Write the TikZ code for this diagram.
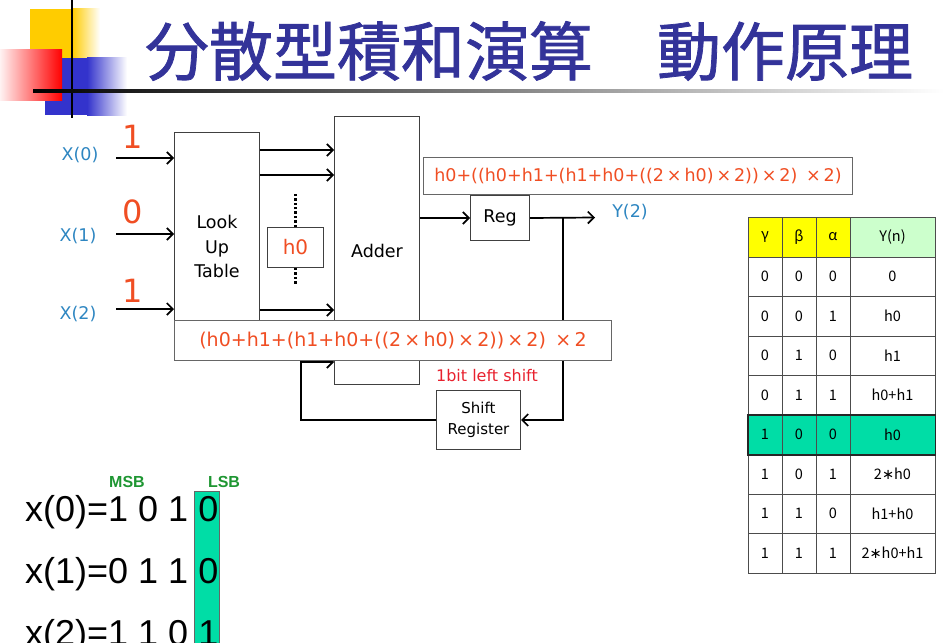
\documentclass[tikz,border=0pt]{standalone}
\usepackage{fontspec}
\setmainfont{DejaVu Sans}
\newfontfamily\jpfont{Noto Sans CJK JP}
\newfontfamily\jptitle[FakeBold=1.2]{Noto Sans CJK JP}
\newfontfamily\arialfont{Liberation Sans}
\newcommand\starop{{\normalfont ∗}}
\usepackage{xcolor}
\usepackage{tikz}
\usetikzlibrary{arrows.meta, positioning}

\definecolor{titleblue}{HTML}{333399}
\definecolor{decoyellow}{HTML}{FFCC00}
\definecolor{decoblue}{HTML}{3333CC}
\definecolor{labelblue}{HTML}{2E86C1}
\definecolor{exprred}{HTML}{F04E23}
\definecolor{shiftred}{HTML}{E8212E}
\definecolor{msbgreen}{HTML}{1E9632}
\definecolor{hlteal}{HTML}{00DDA6}
\definecolor{hdyellow}{HTML}{FFFF00}
\definecolor{hdgreen}{HTML}{CCFFCC}

\begin{document}
\begin{tikzpicture}[x=1pt, y=-1pt,
  box/.style={rectangle, draw=black!75, line width=1pt, fill=white, inner sep=0pt, anchor=north west, align=center, font=\fontsize{17.5}{24.5}\selectfont},
  expr/.style={rectangle, draw=black!60, line width=1pt, fill=white, inner sep=0pt, anchor=north west, text=exprred},
  arrow/.style={-{Straight Barb[length=6pt, width=12pt]}, line width=1.7pt},
  lbl/.style={text=labelblue, font=\fontsize{17.5}{20}\selectfont},
  bit/.style={text=exprred, font=\fontsize{32}{34}\selectfont},
  cell/.style={rectangle, draw=black!70, line width=0.8pt, inner sep=0pt, minimum width=34pt, minimum height=39.5pt, font=\jpfont\fontsize{14.5}{16}\selectfont}]
  \useasboundingbox (0,0) rectangle (944,642);
  % Title
  \fill[decoyellow] (30,9) rectangle (72,58);
  \shade[left color=decoyellow, right color=white] (72,9) rectangle (100,58);
  \fill[decoblue] (45,58) rectangle (87,115);
  \shade[left color=decoblue, right color=white] (87,58) rectangle (127,115);
  \shade[left color=red!5, right color=red] (0,50) rectangle (62,100);
  \draw[line width=2.5pt] (72,0) -- (72,118);
  \shade[left color=black, middle color=black!30, right color=white] (33,89.5) rectangle (944,92.5);
  \node[font=\jptitle\fontsize{64}{64}\selectfont, text=titleblue] (title) at (529,51) {分散型積和演算　動作原理};
  % Blocks
  \node[box, minimum width=85pt, minimum height=228pt] (lut) at (174,132) {Look\\Up\\Table};
  \node[box, minimum width=85pt, minimum height=268pt] (adder) at (334,116) {Adder};
  \node[box, minimum width=56pt, minimum height=40pt, text=exprred, font=\fontsize{20}{22}\selectfont] (h0box) at (267,227) {h0};
  \node[box, minimum width=59pt, minimum height=45pt] (reg) at (470,195) {Reg};
  \node[box, minimum width=84pt, minimum height=59pt, font=\fontsize{15}{21}\selectfont] (shreg) at (436,390) {Shift\\Register};
  % Inputs
  \node[lbl] (x0) at (80,155) {X(0)};
  \node[lbl] (x1) at (78,236) {X(1)};
  \node[lbl] (x2) at (78,314) {X(2)};
  \node[bit] (b0) at (133,137) {1};
  \node[bit] (b1) at (133,212) {0};
  \node[bit] (b2) at (133,291) {1};
  \coordinate (in0) at (116,158);
  \coordinate (in1) at (116,234);
  \coordinate (in2) at (116,309);
  \draw[arrow] (in0) -- (in0 -| lut.west);
  \draw[arrow] (in1) -- (in1 -| lut.west);
  \draw[arrow] (in2) -- (in2 -| lut.west);
  % LUT to adder
  \foreach \yy in {150,175,310}
    \draw[arrow] (lut.east |- 0,\yy) -- (adder.west |- 0,\yy);
  \draw[line width=2.4pt, dotted] (h0box.north) -- ++(0,-34);
  \draw[line width=2.4pt, dotted] (h0box.south) -- ++(0,16);
  % Output and feedback
  \draw[arrow] (adder.east |- reg.west) -- (reg.west);
  \coordinate (yout) at (595,217.5);
  \draw[arrow] (reg.east) -- (yout);
  \node[lbl] (y2) at (630,212) {Y(2)};
  \coordinate (tap) at (563,217.5);
  \draw[arrow] (tap) |- (shreg.east);
  \coordinate (fb) at (301,362);
  \draw[arrow] (shreg.west) -| (fb) -- (fb -| adder.west);
  % Partial sums
  \node[expr, minimum width=437pt, minimum height=40pt, font=\fontsize{19}{21}\selectfont] (sumlow) at (174,320)
    {(h0+h1+(h1+h0+((2\,×\,h0)\,×\,2))\,×\,2)\enskip×\,2};
  \node[expr, minimum width=429pt, minimum height=37pt, font=\fontsize{17.5}{20}\selectfont] (sumup) at (423,157)
    {h0+((h0+h1+(h1+h0+((2\,×\,h0)\,×\,2))\,×\,2)\enskip×\,2)};
  \node[text=shiftred, font=\fontsize{16}{18}\selectfont] (shiftlbl) at (487,376) {1bit left shift};
  % Truth table
  \node[cell, fill=hdyellow, minimum height=40pt] (hg) at (765,237) {γ};
  \node[cell, fill=hdyellow, minimum height=40pt] (hb) at (799,237) {β};
  \node[cell, fill=hdyellow, minimum height=40pt] (ha) at (833,237) {α};
  \node[cell, fill=hdgreen, minimum width=85pt, minimum height=40pt] (hy) at (892.5,237) {Y(n)};
  \foreach \g/\b/\a/\y [count=\i] in {0/0/0/0, 0/0/1/h0, 0/1/0/h1, 0/1/1/h0+h1, 1/0/0/h0, 1/0/1/2\starop{}h0, 1/1/0/h1+h0, 1/1/1/2\starop{}h0+h1} {
    \ifnum\i=5 \def\rowfill{hlteal}\else\def\rowfill{white}\fi
    \pgfmathsetmacro\ry{257+39.5*(\i-0.5)}
    \node[cell, fill=\rowfill] (g\i) at (765,\ry) {\g};
    \node[cell, fill=\rowfill] (b\i) at (799,\ry) {\b};
    \node[cell, fill=\rowfill] (a\i) at (833,\ry) {\a};
    \node[cell, fill=\rowfill, minimum width=85pt] (y\i) at (892.5,\ry) {\y};
  }
  \draw[line width=1.8pt, black!85] (g5.north west) rectangle (y5.south east);
  % Input words
  \draw[fill=hlteal, draw=black!60, line width=0.8pt] (194,491) rectangle (219,646);
  \node[font=\arialfont\bfseries\fontsize{16}{18}\selectfont, text=msbgreen] (msb) at (127,482) {MSB};
  \node[font=\arialfont\bfseries\fontsize{16}{18}\selectfont, text=msbgreen] (lsb) at (224,482) {LSB};
  \node[font=\arialfont\fontsize{36}{38}\selectfont, anchor=base west, inner sep=0pt] (w0) at (25,521) {x(0)=1 0 1 0};
  \node[font=\arialfont\fontsize{36}{38}\selectfont, anchor=base west, inner sep=0pt] (w1) at (25,583) {x(1)=0 1 1 0};
  \node[font=\arialfont\fontsize{36}{38}\selectfont, anchor=base west, inner sep=0pt] (w2) at (25,645) {x(2)=1 1 0 1};
\end{tikzpicture}
\end{document}
